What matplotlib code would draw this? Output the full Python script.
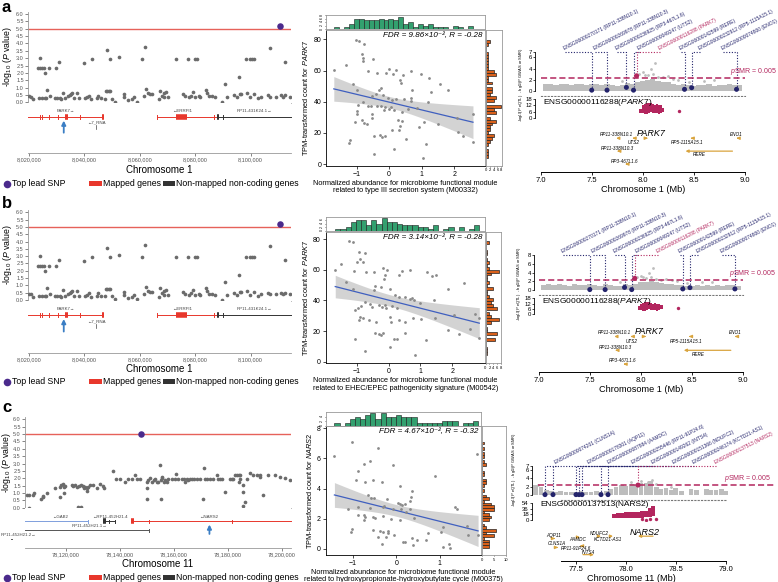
import matplotlib.pyplot as plt
import numpy as np
from matplotlib.patches import Rectangle

plt.rcParams['font.family'] = ['Liberation Sans', 'DejaVu Sans']
plt.rcParams['mathtext.fontset'] = 'custom'
plt.rcParams['mathtext.rm'] = 'Liberation Sans'
plt.rcParams['mathtext.it'] = 'Liberation Sans:italic'

W, H = 778, 582

# ---------------- locus plots (kb positions, -log10 P) ----------------
park7_pos = [8023.87, 8023.26, 8024.11, 8024.84, 8025.56, 8025.68, 8027.26, 8029.67, 8030.76, 8039.83,
             8042.97, 8048.30, 8049.26, 8052.65, 8060.75, 8061.96, 8073.08, 8077.32, 8079.85, 8080.70,
             8095.82, 8098.24, 8099.90, 8100.50, 8101.10, 8106.90, 8112.30,
             8020.00, 8020.85, 8021.45, 8023.63, 8024.84, 8025.68, 8026.29, 8026.65, 8027.74, 8029.31,
             8030.16, 8031.12, 8031.49, 8032.33, 8032.94, 8034.15, 8034.75, 8035.11, 8035.72, 8036.20,
             8037.41, 8038.01, 8040.19, 8041.04, 8041.77, 8042.61, 8044.43, 8044.79, 8045.88, 8047.45,
             8047.81, 8048.30, 8048.90, 8049.38, 8049.87, 8051.08, 8054.46, 8054.46, 8055.91, 8057.12,
             8058.09, 8059.18, 8061.60, 8062.20, 8063.17, 8063.77, 8064.38, 8066.80, 8067.40, 8068.00,
             8068.61, 8068.85, 8069.33, 8070.06, 8075.62, 8076.47, 8077.68, 8078.65, 8079.25, 8080.10,
             8081.30, 8081.91, 8083.97, 8084.33, 8084.93, 8086.14, 8087.35, 8089.77, 8090.62, 8091.58,
             8094.00, 8095.21, 8096.18, 8096.66, 8098.84, 8099.81, 8101.26, 8102.71, 8103.70, 8106.30,
             8107.00, 8109.20, 8111.00, 8111.70, 8112.50, 8114.20]
park7_logp = [3.03, 2.35, 2.35, 2.35, 2.35, 2.01, 2.35, 2.31, 2.76, 2.67,
              2.92, 3.55, 2.92, 3.10, 2.92, 3.78, 2.92, 2.92, 2.92, 2.92,
              1.74, 2.92, 2.92, 2.92, 2.92, 3.71, 2.76,
              0.43, 0.38, 0.20, 0.27, 0.27, 0.27, 0.30, 0.85, 0.40, 0.27,
              0.30, 0.27, 0.20, 0.66, 0.30, 0.40, 0.50, 0.55, 0.60, 0.30,
              0.60, 0.30, 0.27, 0.35, 0.45, 0.20, 0.27, 0.45, 0.27, 0.25,
              0.74, 0.74, 0.74, 0.74, 0.25, 0.05, 0.55, 0.35, 0.15, 0.20,
              0.35, 0.05, 0.40, 0.90, 0.60, 0.55, 0.55, 0.20, 0.80, 0.45,
              0.35, 0.60, 0.70, 0.35, 0.55, 0.40, 0.35, 0.45, 0.70, 0.35,
              0.40, 0.35, 0.85, 0.60, 0.40, 0.40, 0.35, 0.02, 1.25, 0.35,
              0.50, 0.35, 0.55, 0.55, 0.60, 0.35, 0.55, 0.30, 0.38, 0.50,
              0.38, 0.38, 0.50, 0.38, 0.50, 0.38]
park7_lead = (8110.6, 5.2)

nars2_pos = [78105.6, 78106.5, 78106.2, 78108.0, 78108.4, 78110.7, 78111.5, 78111.7, 78113.0, 78116.0,
             78117.7, 78117.7, 78118.3, 78118.9, 78119.4, 78119.8, 78119.3, 78122.2, 78122.8, 78123.5,
             78124.1, 78124.4, 78124.9, 78125.6, 78125.7, 78126.3, 78126.8, 78127.3, 78127.8, 78128.0,
             78128.4, 78129.0, 78130.2, 78131.5, 78132.7, 78133.6, 78134.2, 78137.4, 78138.5, 78139.9,
             78142.0, 78143.2, 78144.4, 78145.7, 78146.3, 78147.3, 78150.0, 78150.0, 78150.2, 78150.6,
             78151.2, 78151.9, 78152.5, 78153.1, 78153.7, 78154.3, 78154.9, 78155.1, 78155.2, 78155.6,
             78155.8, 78156.2, 78156.8, 78157.4, 78158.0, 78159.3, 78160.5, 78160.7, 78161.7, 78163.0,
             78163.6, 78164.2, 78164.8, 78165.4, 78166.0, 78166.7, 78167.3, 78168.5, 78169.8, 78170.7,
             78171.0, 78171.6, 78172.2, 78173.5, 78174.7, 78175.9, 78176.5, 78177.2, 78177.8, 78179.0,
             78180.9, 78181.5, 78182.1, 78182.7, 78183.3, 78184.0, 78184.6, 78184.0, 78184.6, 78185.6,
             78185.8, 78186.2, 78185.8, 78187.0, 78188.3, 78189.5, 78190.7, 78192.0, 78193.1, 78192.0,
             78194.9, 78197.5, 78199.4, 78201.2, 78203.0]
nars2_logp = [0.86, 0.86, 0.00, 0.86, 0.97, 0.59, 0.70, 0.81, 0.97, 1.36,
              0.75, 1.38, 1.54, 1.61, 1.40, 1.49, 1.02, 1.56, 1.49, 1.52,
              1.43, 0.02, 1.47, 1.54, 0.02, 1.47, 1.36, 1.43, 1.13, 1.31,
              1.43, 1.54, 1.56, 1.31, 1.61, 1.47, 1.36, 2.49, 1.92, 1.92,
              1.72, 1.92, 1.92, 2.22, 1.92, 1.92, 0.59, 1.36, 1.72, 1.90,
              2.00, 1.76, 1.88, 1.92, 1.76, 1.72, 2.90, 0.57, 1.88, 2.06,
              2.00, 1.76, 1.88, 1.76, 1.92, 1.92, 1.92, 2.29, 1.92, 1.92,
              1.92, 1.76, 1.92, 1.85, 1.92, 1.92, 1.92, 1.92, 1.92, 0.57,
              2.67, 1.92, 1.92, 1.92, 1.92, 2.22, 1.92, 1.92, 1.92, 1.09,
              1.92, 1.92, 1.92, 2.22, 2.22, 2.22, 2.22, 1.72, 1.92, 1.54,
              1.09, 0.41, 0.14, 1.92, 2.38, 2.22, 2.22, 2.22, 0.86, 2.10,
              2.20, 2.20, 2.10, 2.00, 1.90]
nars2_lead = (78147.9, 5.0)

# gene models of the locus plots
ab_gene_label = ['PARK7\u2192', '\u2190ERRFI1', 'RP11-431K24.1\u2192']
ab_gene_start = [8019.6, 8066.2, 8088.0]
ab_gene_end = [8046.8, 8088.0, 8114.6]
ab_gene_color = ['#e8372c', '#e8372c', '#333333']
ab_gene_row = [0.27, 0.27, 0.27]
ab_gene_exons = [[8023.9, 8024.7, 8027.1, 8030.5, 8038.4], [8066.2, 8086.8], [8090.0]]
ab_gene_boxes = [[(8032.9, 8034.1), (8046.3, 8047.0)], [(8073.1, 8077.1)], [(8087.9, 8088.6)]]
ab_gene_label_x = [8033.5, 8075.2, 8101.3]
ab_arrow_kb = 8032.6
ab_small_label = ('\u21907_RNA', 8044.4)

c_gene_label = ['\u2190GAB2', '\u2190RP11-452H21.4', '\u2190NARS2', 'RP11-452H21.1\u2192', 'RP11-452H21.2\u2192']
c_gene_start = [78105.0, 78133.7, 78144.4, 78105.0, 78099.8]
c_gene_end = [78128.1, 78138.3, 78203.4, 78151.0, 78100.0]
c_gene_color = ['#7f9fdc', '#333333', '#e8372c', '#555555', '#555555']
c_gene_row = [0.33, 0.33, 0.33, 0.56, 0.78]
c_gene_exons = [[78128.1], [78136.0, 78138.3], [78150.9, 78181.7], [78151.0], []]
c_gene_boxes = [[], [(78133.7, 78134.8)], [(78144.3, 78145.1)], [], []]
c_gene_label_x = [78117.9, 78136.4, 78172.8, 78128.6, 78102.3]
c_arrow_kb = 78173.2

# ---------------- scatter panels ----------------
a_x = [-1.70, -1.01, -0.93, -0.77, -1.32, -0.82, -0.79, -0.79, -0.49, -0.64, -0.36, -0.10, 0.00, 0.21, 0.13,
       0.44, 0.67, 0.98, 1.22, 0.34, 0.36, 1.58, 1.80, -0.98, -1.11, -0.24, -0.31, -0.41, -0.52, -0.19,
       -0.02, 0.10, 0.21, 0.46, 0.67, 0.67, 1.21, -0.79, -0.95, -0.65, -0.55, -0.38, -0.24, -0.12, 0.05,
       0.00, -0.15, -0.98, -0.52, 0.15, 0.41, 0.59, 0.86, -1.05, -0.82, -0.77, -0.67, -0.54, -1.00, 0.26,
       0.34, 0.31, 0.10, 0.41, 0.93, 1.08, 2.09, -0.46, -0.28, -0.23, -0.13, -1.19, -1.23, 0.52, 1.13,
       2.11, 2.27, 2.58, 2.58, 1.49, -0.46, 0.15, 1.05, 1.29, 0.69]
a_y = [60.1, 79.3, 78.9, 77.2, 63.8, 70.4, 68.2, 66.1, 67.6, 59.5, 58.4, 58.4, 61.2, 60.1, 58.0,
       56.9, 59.7, 57.6, 55.4, 54.2, 52.0, 51.2, 47.3, 47.8, 51.6, 49.0, 47.8, 44.8, 43.5, 44.1,
       42.6, 40.9, 41.8, 42.0, 42.4, 40.3, 39.9, 39.9, 37.7, 37.1, 37.1, 37.5, 37.1, 36.7, 36.7,
       35.6, 34.5, 34.1, 32.4, 34.5, 33.5, 35.6, 36.2, 27.1, 28.1, 26.4, 26.0, 29.9, 32.4, 28.1,
       24.3, 21.7, 22.2, 27.7, 23.9, 27.1, 29.9, 17.9, 18.6, 17.1, 17.9, 15.4, 13.6, 16.4, 13.2,
       20.7, 17.9, 14.3, 32.4, 25.6, 6.8, 9.4, 4.1, 46.3, 47.3]

b_x = [-1.68, -1.50, -1.26, -1.13, -0.94, -0.75, -0.89, -0.99, -0.82, -1.08, -0.70, -0.47, -0.18, -0.05,
       -0.13, -0.16, 0.34, 0.42, 0.68, 1.20, 1.36, 1.49, 2.36, 1.86, -1.33, -1.13, -0.42, -0.23, 0.05,
       -0.47, 0.21, 0.31, 0.50, 0.73, 0.79, 0.66, 1.44, 0.99, -0.75, -0.87, -0.96, -1.05, -0.58, -0.52,
       -0.31, -0.21, -0.10, -0.08, 0.10, 0.26, 2.04, -0.89, -0.82, -0.63, -0.94, -0.40, 0.05, 0.07, 0.31,
       0.52, 0.75, 1.03, 1.47, 2.72, 2.85, -0.44, -0.31, -0.23, -0.19, -1.05, 0.16, 0.26, 0.52, 1.18,
       2.22, 2.57, 2.83, 1.88, -0.73, 0.05, 0.82]
b_y = [59.8, 63.7, 78.7, 78.3, 71.7, 70.7, 67.4, 65.2, 65.2, 59.1, 58.7, 58.7, 60.9, 60.2,
       56.5, 54.3, 56.5, 59.3, 59.8, 58.7, 55.9, 56.5, 51.1, 47.2, 52.2, 47.2, 49.6, 48.5, 47.8,
       46.7, 43.5, 42.4, 42.0, 41.3, 40.2, 40.7, 40.2, 38.5, 39.1, 36.3, 34.8, 34.1, 38.0, 35.9,
       37.0, 35.9, 37.0, 35.4, 36.3, 35.4, 30.4, 29.3, 28.3, 27.2, 27.2, 26.1, 29.3, 26.1, 27.2,
       26.1, 28.3, 27.6, 28.3, 31.5, 28.5, 18.9, 18.0, 17.4, 18.5, 14.6, 14.6, 14.6, 18.5, 14.1,
       18.0, 21.1, 15.2, 20.7, 7.0, 9.8, 4.3]

c_x = [-1.42, -1.01, -0.88, -0.74, -0.61, -0.41, -0.08, 0.88, 1.86, -0.92, -0.71, -0.54, -0.33, 0.08,
       0.37, 0.34, -0.65, -0.59, -0.50, -0.21, 0.31, -1.11, -0.88, -0.61, -0.31, -0.27, 0.04, 0.08,
       0.14, 0.19, -0.08, 0.11, 0.31, 0.23, 1.34, 1.40, 1.63, -0.88, -0.74, -0.71, -0.73, -0.54,
       -0.48, -0.31, -0.11, 0.09, 0.41, 1.07, -1.01, -1.03, -0.54, -0.38, -0.31, -0.18, -0.18, -0.42,
       -0.23, -0.04, 0.37, 0.48, 0.69, 0.15, 0.38, -0.33, 0.74, 1.21, 0.19, 1.07, 1.23, 1.65, 1.88, 1.02]
c_y = [6.18, 7.11, 5.17, 5.61, 5.83, 6.67, 5.56, 4.86, 6.29, 4.57, 4.42, 4.57, 4.42, 4.19,
       3.84, 3.47, 3.58, 3.40, 3.36, 3.31, 3.18, 2.65, 2.80, 2.74, 2.80, 2.87, 3.02, 2.96,
       2.91, 2.98, 2.65, 2.65, 2.65, 2.43, 2.80, 2.65, 1.55, 2.25, 2.25, 2.14, 1.92, 2.14,
       2.03, 2.21, 1.99, 1.92, 2.08, 1.48, 1.32, 1.15, 1.26, 1.19, 1.15, 1.19, 1.04, 0.82,
       0.82, 0.93, 0.71, 0.60, 0.60, 0.49, 0.26, 0.31, 1.04, 0.31, 0.44, 0.15, 0.09, 0.93, 0.93, 1.15]

# ---------------- SMR locus plots ----------------
ab_bg_mb = [7.05, 7.10, 7.15, 7.20, 7.25, 7.30, 7.35, 7.40, 7.45, 7.50, 7.55, 7.60, 7.65, 7.70, 7.75,
            7.80, 7.85, 7.90, 7.95, 8.00, 8.05, 8.10, 8.15, 8.20, 8.25, 8.30, 8.35, 8.40, 8.45, 8.50,
            8.55, 8.60, 8.65, 8.70, 8.75, 8.80, 8.85, 8.90, 8.95]
ab_bg_top = [1.2, 1.3, 1.1, 1.3, 1.2, 1.0, 1.3, 1.2, 1.1, 1.3, 1.2, 1.0, 1.3, 1.1, 0.9,
             1.0, 1.4, 1.2, 1.5, 1.8, 1.9, 2.1, 1.8, 1.6, 1.5, 1.3, 1.1, 1.2, 1.0, 0.9,
             1.1, 1.0, 1.2, 0.9, 1.1, 1.0, 1.2, 1.1, 1.0]
ab_hi_mb = [7.80, 7.96, 8.00, 8.02, 8.05, 8.08, 8.10, 8.12, 8.15, 8.20, 8.25, 8.30, 8.35, 8.45, 8.60, 8.70]
ab_hi_p = [1.8, 3.0, 3.3, 2.9, 2.8, 4.0, 3.0, 5.0, 2.5, 2.4, 2.6, 2.2, 2.0, 1.6, 1.8, 1.9]
ab_probe = ['ENSG00000270171 (RP11-338N10.1)', 'ENSG00000269978 (RP11-338N10.3)',
            'ENSG00000236925 (RP3-467L1.6)', 'ENSG00000049247 (UTS2)', 'ENSG00000116288 (PARK7)',
            'ENSG00000142599 (RERE)', 'ENSG00000232912 (RP5-1115A15.1)', 'ENSG00000074800 (ENO1)']
ab_probe_mb = [7.50, 7.65, 7.84, 7.91, 7.94, 8.41, 8.48, 8.92]
ab_probe_p = [0.1, 0.1, 0.6, 0.1, 2.7, 0.25, 0.55, 0.25]
ab_probe_lab = [7.24, 7.53, 7.75, 7.96, 8.17, 8.38, 8.56, 8.79]
ab_eq_mb = [7.98, 8.00, 8.02, 8.04, 8.06, 8.08, 8.10, 8.12, 8.14, 8.16, 8.18, 8.20]
ab_eq_lo = [5, 5, 4, 4, 5, 6, 5, 5, 5, 4, 5, 6]
ab_eq_hi = [9, 12, 13, 14, 14, 14, 13, 12, 13, 12, 12, 10]
ab_eq_out_mb = [8.36]
ab_eq_out_p = [7]
ab_gn = ['RP11-338N10.1', 'UTS2', 'PARK7', 'RP5-1115A15.1', 'ENO1', 'RP11-338N10.3', 'RERE', 'RP3-467L1.6']
ab_g0 = [7.77, 7.92, 8.03, 8.49, 8.94, 7.77, 8.88, 7.85]
ab_g1 = [7.74, 7.90, 8.05, 8.47, 8.92, 7.75, 8.42, 7.83]
ab_grow = [1.0, 1.0, 1.0, 1.0, 1.0, 2.1, 2.1, 3.2]
ab_glx = [7.74, 7.91, 8.08, 8.44, 8.92, 7.75, 8.56, 7.82]
ab_gly = [0.72, 1.38, 0.6, 1.38, 0.72, 1.85, 2.42, 2.95]

c_bg_mb = [77.10, 77.15, 77.20, 77.25, 77.30, 77.35, 77.40, 77.45, 77.50, 77.55, 77.60, 77.65, 77.70,
           77.75, 77.80, 77.85, 77.90, 77.95, 78.00, 78.05, 78.10, 78.15, 78.20, 78.25, 78.30, 78.35,
           78.40, 78.45, 78.50, 78.55, 78.60, 78.65, 78.70, 78.75, 78.80, 78.85, 78.90, 78.95, 79.00]
c_bg_top = [2.3, 2.0, 1.2, 1.0, 0.8, 0.9, 0.8, 0.7, 0.8, 0.9, 0.8, 0.7, 0.9,
            0.8, 0.9, 1.5, 2.0, 2.4, 2.2, 2.6, 2.5, 3.0, 2.8, 3.3, 2.0, 1.5,
            1.8, 1.2, 1.6, 1.0, 0.0, 1.4, 1.2, 0.0, 1.5, 1.3, 1.2, 1.4, 1.0]
c_hi_mb = [77.12, 78.05, 78.15, 78.22, 78.26, 78.30, 78.45]
c_hi_p = [2.5, 3.2, 3.4, 3.1, 3.5, 2.6, 2.0]
c_probe = ['ENSG00000074201 (CLNS1A)', 'ENSG00000178301 (AQP11)', 'ENSG00000087884 (AAMDC)',
           'ENSG00000255446 (RP11-91P24.6)', 'ENSG00000149262 (INTS4)', 'ENSG00000151366 (NDUFC2)',
           'ENSG00000246174 (KCTD21-AS1)', 'ENSG00000137513 (NARS2)']
c_probe_mb = [77.19, 77.27, 77.50, 77.53, 77.56, 77.75, 77.82, 78.12]
c_probe_p = [0.1, 0.1, 0.1, 0.1, 0.1, 0.1, 0.1, 2.4]
c_probe_lab = [77.30, 77.63, 77.83, 78.07, 78.27, 78.48, 78.68, 78.90]
c_eq_mb = [77.88, 77.92, 77.96, 78.00, 78.04, 78.08, 78.12, 78.16, 78.20, 78.24, 78.27]
c_eq_lo = [8, 6, 6, 6, 6, 7, 7, 8, 9, 10, 14]
c_eq_hi = [20, 22, 24, 25, 25, 26, 27, 28, 30, 38, 44]
c_eq_out_mb = [78.16, 78.20, 78.24, 78.30]
c_eq_out_p = [2, 1, 3, 2]
c_gn = ['AQP11', 'CLNS1A', 'AAMDC', 'NDUFC2', 'KCTD21-AS1', 'NARS2', 'RP11-91P24.6', 'INTS4']
c_g0 = [77.27, 77.30, 77.51, 77.72, 77.84, 78.27, 77.56, 77.57]
c_g1 = [77.29, 77.32, 77.54, 77.75, 77.87, 78.12, 77.54, 77.68]
c_grow = [1.31, 2.32, 1.16, 1.05, 1.05, 1.05, 2.15, 3.13]
c_glx = [77.28, 77.31, 77.52, 77.73, 77.82, 78.19, 77.50, 77.62]
c_gly = [0.98, 1.88, 1.45, 0.76, 1.45, 0.66, 2.45, 2.87]

MAG = '#b3265e'
NAVY = '#23236b'
GOLD = '#d9a43e'
GREY_BG = '#bdbdbd'
PURPLE = '#4b2a8c'

fig = plt.figure(figsize=(W / 100, H / 100), dpi=100)


def R(x0, y0, x1, y1):
    return [x0 / W, 1 - y1 / H, (x1 - x0) / W, (y1 - y0) / H]


def locus_panel(x0, y6, y0, yx, pos, logp, lead, xlim, xticks, chrom, gl, gs, ge, gc, grow, gex, gbox, glx,
                arrow_kb, small, legend_y, ylab_right):
    s = (y0 - y6) / 6.0
    x1 = 291
    ax = fig.add_axes(R(x0, y0 - 6.2 * s, x1, y0 + 0.05 * s))
    ax.scatter(pos, logp, s=7, color='#6b6b6b', lw=0, zorder=3)
    ax.axhline(5, color='#e2473d', lw=1.0, alpha=0.85, zorder=2)
    ax.scatter([lead[0]], [lead[1]], s=22, color=PURPLE, lw=0, zorder=4)
    ax.set_xlim(*xlim)
    ax.set_ylim(-0.05, 6.2)
    ax.set_yticks(np.arange(0, 6.01, 0.5))
    ax.set_yticklabels(['%.1f' % v for v in np.arange(0, 6.01, 0.5)])
    ax.tick_params(axis='y', labelsize=4, colors='#555555', length=2, width=0.5, pad=1)
    ax.tick_params(axis='x', bottom=False, labelbottom=False)
    for side in ['top', 'right']:
        ax.spines[side].set_visible(False)
    ax.spines['left'].set_bounds(0, 6.15)
    ax.spines['left'].set_color('#999999')
    ax.spines['bottom'].set_color('#aaaaaa')
    ax.spines['left'].set_linewidth(0.6)
    ax.spines['bottom'].set_linewidth(0.6)
    ax.set_ylabel(r'-log$_{10}$ ($\it{P}$ value)', fontsize=6.3)
    ax.yaxis.set_label_coords((ylab_right - x0) / (x1 - x0), 0.5)

    ag = fig.add_axes(R(x0, y0 + 0.05 * s, x1, yx))
    ag.set_xlim(*xlim)
    ag.set_ylim(1, 0)
    for i in range(len(gl)):
        ag.plot([gs[i], ge[i]], [grow[i], grow[i]], color=gc[i], lw=0.7, clip_on=False)
        for e in gex[i]:
            ag.plot([e, e], [grow[i] - 0.04, grow[i] + 0.04], color=gc[i], lw=0.7, clip_on=False)
        for b0, b1 in gbox[i]:
            ag.plot([b0, b1], [grow[i], grow[i]], color=gc[i], lw=4, solid_capstyle='butt', clip_on=False)
        ag.text(glx[i], grow[i] - 0.11, gl[i], fontsize=3.2, color='#444444', ha='center', va='center',
                clip_on=False)
    if small is not None:
        ag.text(small[1], grow[0] + 0.12, small[0], fontsize=3.2, color='#444444', ha='center', va='center')
        ag.plot([small[1], small[1]], [grow[0] + 0.17, grow[0] + 0.25], color='#444444', lw=0.5)
    ag.annotate('', xy=(arrow_kb, grow[0] + 0.08), xytext=(arrow_kb, grow[0] + 0.32),
                arrowprops=dict(arrowstyle='-|>', color='#3b7ec4', lw=1.3, mutation_scale=6, shrinkA=0, shrinkB=0))
    ag.set_yticks([])
    for side in ['top', 'right', 'left']:
        ag.spines[side].set_visible(False)
    ag.spines['bottom'].set_color('#999999')
    ag.spines['bottom'].set_linewidth(0.6)
    ag.set_xticks(xticks)
    ag.set_xticklabels(['{:,}'.format(int(round(t * 1000))) for t in xticks])
    ag.tick_params(axis='x', labelsize=4, colors='#555555', length=2, width=0.5, pad=1)
    ag.set_xlabel(chrom, fontsize=7, labelpad=1.5)

    # legend row
    lg = fig.add_axes(R(0, legend_y - 6, 300, legend_y + 6))
    lg.set_xlim(0, 300)
    lg.set_ylim(6, -6)
    lg.axis('off')
    lg.scatter([7], [0], s=30, color=PURPLE, lw=0)
    lg.text(12, 0, 'Top lead SNP', fontsize=6.3, va='center', ha='left')
    lg.add_patch(Rectangle((89, -2.5), 13, 5, color='#e8372c', lw=0))
    lg.text(103, 0, 'Mapped genes', fontsize=6.3, va='center', ha='left')
    lg.add_patch(Rectangle((163, -2.5), 12, 5, color='#333333', lw=0))
    lg.text(176, 0, 'Non-mapped non-coding genes', fontsize=6.3, va='center', ha='left')


def scatter_panel(x, y, r_main, r_top, r_right, xlim, ylim, xticks, yticks, gene, fdr, rr, module,
                  top_ticks, right_ticks, nb_top, nb_right):
    x = np.array(x)
    y = np.array(y)
    ax = fig.add_axes(R(*r_main))
    k, b0 = np.polyfit(x, y, 1)
    xg = np.linspace(x.min(), x.max(), 100)
    n = len(x)
    res = y - (k * x + b0)
    sd = np.sqrt(np.sum(res ** 2) / (n - 2))
    se = sd * np.sqrt(1 / n + (xg - x.mean()) ** 2 / np.sum((x - x.mean()) ** 2))
    yg = k * xg + b0
    ax.fill_between(xg, yg - 1.99 * se, yg + 1.99 * se, color='#cccccc', alpha=0.85, lw=0)
    ax.plot(xg, yg, color='#3f5fbf', lw=0.9)
    ax.scatter(x, y, s=4, color='#8a8a8a', lw=0, zorder=3)
    ax.set_xlim(*xlim)
    ax.set_ylim(*ylim)
    ax.set_xticks(xticks)
    ax.set_yticks(yticks)
    ax.tick_params(labelsize=5, length=2, width=0.5, pad=1.5)
    for side in ['top', 'right']:
        ax.spines[side].set_color('#999999')
    for side in ax.spines:
        ax.spines[side].set_linewidth(0.6)
    ax.text(0.985, 0.985, 'FDR = %s, R = %s' % (fdr, rr), transform=ax.transAxes, ha='right', va='top',
            style='italic', fontsize=5.8)
    ax.set_ylabel(r'TPM-transformed count for $\it{%s}$' % gene, fontsize=5.3, labelpad=2)
    ax.set_xlabel('Normalized abundance for microbiome functional module\n' + module, fontsize=5.3,
                  labelpad=1.5, linespacing=1.1)

    at = fig.add_axes(R(*r_top))
    at.hist(x, bins=np.linspace(x.min(), x.max(), nb_top + 1), color='#33a06f', edgecolor='#1a1a1a', lw=0.4)
    at.set_xlim(*xlim)
    at.set_xticks([])
    at.set_yticks(top_ticks)
    at.tick_params(axis='y', labelsize=2.6, length=1, width=0.4, pad=0.5, labelrotation=90)
    for side in at.spines:
        at.spines[side].set_color('#999999')
        at.spines[side].set_linewidth(0.6)

    ar = fig.add_axes(R(*r_right))
    ar.hist(y, bins=np.linspace(y.min(), y.max(), nb_right + 1), orientation='horizontal',
            color='#d9601a', edgecolor='#222222', lw=0.5)
    ar.set_ylim(*ylim)
    ar.set_yticks([])
    ar.set_xticks(right_ticks)
    ar.tick_params(axis='x', labelsize=3, length=1, width=0.4, pad=1)
    for side in ar.spines:
        ar.spines[side].set_color('#999999')
        ar.spines[side].set_linewidth(0.6)


def smr_panel(r_top, r_eq, r_gene, xlim, xbounds, xticks, top_ylim, top_ticks, eq_ylim, eq_ticks,
              bg_x, bg_h, hi_x, hi_y, probes, px, py, lx, hl, eq_x, eq_lo, eq_hi, eq_ox, eq_oy, eq_name,
              gn, g0, g1, grow, glx, gly, big, xlabel, pl_x, pl_lab_x, ylab_x, ylab_y):
    axt = fig.add_axes(R(*r_top))
    axt.bar(bg_x, bg_h, width=0.05, color=GREY_BG, lw=0)
    axt.scatter(hi_x, hi_y, s=4, color=GREY_BG, lw=0)
    axt.plot(pl_x, [2.3, 2.3], ls=(0, (4, 2)), color=MAG, lw=1.1, clip_on=False, zorder=2)
    axt.text(pl_lab_x, 2.55, r'$\it{p}$SMR = 0.005', color=MAG, fontsize=5, ha='left', va='bottom',
             clip_on=False)
    ytop = top_ticks[-1]
    cols = [MAG if i == hl else NAVY for i in range(len(probes))]
    for i, lab in enumerate(probes):
        axt.plot([lx[i], px[i], px[i]], [ytop, ytop, py[i]], ls=(0, (1, 1.5)), color=cols[i], lw=0.8,
                 clip_on=False, zorder=1)
        axt.text(lx[i], ytop + 0.2, lab, rotation=27, rotation_mode='anchor', ha='left', va='bottom',
                 fontsize=3.5, color=cols[i], clip_on=False)
    axt.scatter(px, py, s=13, c=cols, lw=0, zorder=4)
    axt.set_xlim(*xlim)
    axt.set_ylim(*top_ylim)
    axt.set_yticks(top_ticks)
    axt.tick_params(axis='y', labelsize=4.3, length=1.5, width=0.5, pad=0.8)
    axt.tick_params(axis='x', bottom=False, labelbottom=False)
    for side in ['top', 'right']:
        axt.spines[side].set_visible(False)
    axt.spines['left'].set_bounds(0, ytop)
    axt.spines['left'].set_linewidth(0.6)
    axt.spines['bottom'].set_linestyle((0, (1, 2)))
    axt.spines['bottom'].set_color('#777777')
    axt.spines['bottom'].set_bounds(*xbounds)

    axe = fig.add_axes(R(*r_eq))
    wd = np.diff(eq_x).min() * 1.15
    axe.bar(eq_x, np.array(eq_hi) - np.array(eq_lo), bottom=eq_lo, width=wd, color=MAG, lw=0)
    axe.scatter(eq_ox, eq_oy, s=6, color=MAG, lw=0)
    axe.set_xlim(*xlim)
    axe.set_ylim(*eq_ylim)
    axe.set_yticks(eq_ticks)
    axe.tick_params(axis='y', labelsize=4.3, length=1.5, width=0.5, pad=0.8)
    axe.tick_params(axis='x', bottom=False, labelbottom=False)
    for side in ['top', 'right', 'bottom']:
        axe.spines[side].set_visible(False)
    axe.spines['left'].set_bounds(0, eq_ticks[-1])
    axe.spines['left'].set_linewidth(0.6)
    axe.text(xlim[0] + 0.08, eq_ylim[1], eq_name, fontsize=6, va='top', ha='left')

    axg = fig.add_axes(R(*r_gene))
    for i in range(len(gn)):
        axg.annotate('', xy=(g1[i], grow[i]), xytext=(g0[i], grow[i]),
                     arrowprops=dict(arrowstyle='-|>', color=GOLD, lw=0.9, mutation_scale=4, shrinkA=0, shrinkB=0))
        if gn[i] == big:
            axg.text(glx[i], gly[i], gn[i], fontsize=6.5, style='italic', ha='center', va='center')
        else:
            axg.text(glx[i], gly[i], gn[i], fontsize=3.3, style='italic', ha='center', va='center')
    axg.set_xlim(*xlim)
    axg.set_ylim(3.85, -0.55)
    axg.set_yticks([])
    for side in ['top', 'right', 'left']:
        axg.spines[side].set_visible(False)
    axg.spines['bottom'].set_bounds(*xbounds)
    axg.spines['bottom'].set_linewidth(0.7)
    axg.set_xticks(xticks)
    axg.set_xticklabels(['%.1f' % t for t in xticks])
    axg.tick_params(axis='x', labelsize=5.5, length=2.5, width=0.6, pad=1.2)
    axg.set_xlabel(xlabel, fontsize=6.6, labelpad=0.5)

    fig.text(ylab_x / W, 1 - ylab_y / H,
             r'-log$_{10}$($\it{P}$ eQTL)   -log$_{10}$($\it{P}$ GWAS or SMR)', rotation=90,
             fontsize=2.9, ha='center', va='center')


# ---- row a ----
locus_panel(28, 14, 102.3, 153.3, park7_pos, park7_logp, park7_lead, (8019.7, 8114.6),
            [8020, 8040, 8060, 8080, 8100], 'Chromosome 1', ab_gene_label, ab_gene_start, ab_gene_end,
            ab_gene_color, ab_gene_row, ab_gene_exons, ab_gene_boxes, ab_gene_label_x, ab_arrow_kb,
            ab_small_label, 184, 14)
scatter_panel(a_x, a_y, (326, 30, 485, 165.7), (326, 15, 485, 29), (486, 30, 502, 165.7),
              (-1.94, 2.95), (-1, 86), [-1, 0, 1, 2], [0, 20, 40, 60, 80], 'PARK7', '9.86\u00d710\u207b\u00b2',
              '-0.28', 'related to type III secretion system (M00332)', [0, 2, 4, 6, 8], [0, 2, 4, 6, 8], 28, 40)
smr_panel((535, 50.3, 750.3, 95.7), (535, 97, 750.3, 120), (535, 120, 750.3, 171.7), (6.944, 9.055), (7.0, 9.0),
          [7.0, 7.5, 8.0, 8.5, 9.0], (-0.9, 7.3), [0, 2, 4, 6, 7], (-1.6, 19.9), [0, 6, 12, 18],
          ab_bg_mb, ab_bg_top, ab_hi_mb, ab_hi_p, ab_probe, ab_probe_mb, ab_probe_p, ab_probe_lab, 4,
          ab_eq_mb, ab_eq_lo, ab_eq_hi, ab_eq_out_mb, ab_eq_out_p, r'ENSG00000116288($\it{PARK7}$)',
          ab_gn, ab_g0, ab_g1, ab_grow, ab_glx, ab_gly, 'PARK7', 'Chromosome 1 (Mb)', [7.0, 9.0], 8.86, 521, 85)

# ---- row b ----
locus_panel(28, 212.3, 300, 353, park7_pos, park7_logp, park7_lead, (8019.7, 8114.6),
            [8020, 8040, 8060, 8080, 8100], 'Chromosome 1', ab_gene_label, ab_gene_start, ab_gene_end,
            ab_gene_color, ab_gene_row, ab_gene_exons, ab_gene_boxes, ab_gene_label_x, ab_arrow_kb,
            ab_small_label, 381.7, 14)
scatter_panel(b_x, b_y, (325.7, 231.7, 484.7, 363.3), (325.7, 217.3, 484.7, 231), (485.5, 231.7, 501.3, 363.3),
              (-1.98, 3.02), (-1, 84.9), [-1, 0, 1, 2], [0, 20, 40, 60, 80], 'PARK7', '3.14\u00d710\u207b\u00b2',
              '-0.28', 'related to EHEC/EPEC pathogenicity signature (M00542)', [0, 2, 4, 6], [0, 2, 4, 6, 8],
              28, 40)
smr_panel((534, 252.7, 748.7, 295), (534, 296, 748.7, 317), (534, 317, 748.7, 372.3), (6.954, 9.055), (7.0, 9.0),
          [7.0, 7.5, 8.0, 8.5, 9.0], (-1.15, 8.6), [0, 2, 4, 6, 8], (-3.4, 20.6), [0, 6, 12, 18],
          ab_bg_mb, ab_bg_top, ab_hi_mb, ab_hi_p, ab_probe, ab_probe_mb, ab_probe_p, ab_probe_lab, 4,
          ab_eq_mb, ab_eq_lo, ab_eq_hi, ab_eq_out_mb, ab_eq_out_p, r'ENSG00000116288($\it{PARK7}$)',
          ab_gn, ab_g0, ab_g1, ab_grow, ab_glx, ab_gly, 'PARK7', 'Chromosome 1 (Mb)', [7.0, 9.0], 8.86, 519, 284)

# ---- row c ----
locus_panel(25, 419.3, 507.7, 547.7, nars2_pos, nars2_logp, nars2_lead, (78104.9, 78203.4),
            [78120, 78140, 78160, 78180, 78200], 'Chromosome 11', c_gene_label, c_gene_start, c_gene_end,
            c_gene_color, c_gene_row, c_gene_exons, c_gene_boxes, c_gene_label_x, c_arrow_kb, None, 577.7, 13)
scatter_panel(c_x, c_y, (325.7, 425.7, 480.7, 555), (325.7, 412, 480.7, 425.5), (481.5, 425.7, 506, 555),
              (-1.62, 1.94), (-0.4, 8.17), [-1, 0, 1], [0, 2, 4, 6, 8], 'NARS2', '4.67\u00d710\u207b\u00b2',
              '-0.32', 'related to hydroxypropionate-hydroxybutylate cycle (M00375)', [0, 2, 4], [0, 5, 10],
              28, 40)
smr_panel((532, 463.9, 731, 500), (532, 501.5, 731, 522), (532, 522, 731, 561), (77.06, 79.05), (77.35, 79.0),
          [77.5, 78.0, 78.5, 79.0], (-1.2, 7.5), [0, 2, 4, 6, 7], (-6.5, 59.8), [0, 18, 36, 54],
          c_bg_mb, c_bg_top, c_hi_mb, c_hi_p, c_probe, c_probe_mb, c_probe_p, c_probe_lab, 7,
          c_eq_mb, c_eq_lo, c_eq_hi, c_eq_out_mb, c_eq_out_p, r'ENSG00000137513(NARS2)',
          c_gn, c_g0, c_g1, c_grow, c_glx, c_gly, 'NARS2', 'Chromosome 11 (Mb)', [77.12, 79.5], 78.98, 514, 470)

for lab, yy in [('a', 7), ('b', 204), ('c', 407)]:
    fig.text(2 / W, 1 - yy / H, lab, fontsize=12, fontweight='bold', va='center', ha='left')

fig.savefig('out.png', dpi=100)
